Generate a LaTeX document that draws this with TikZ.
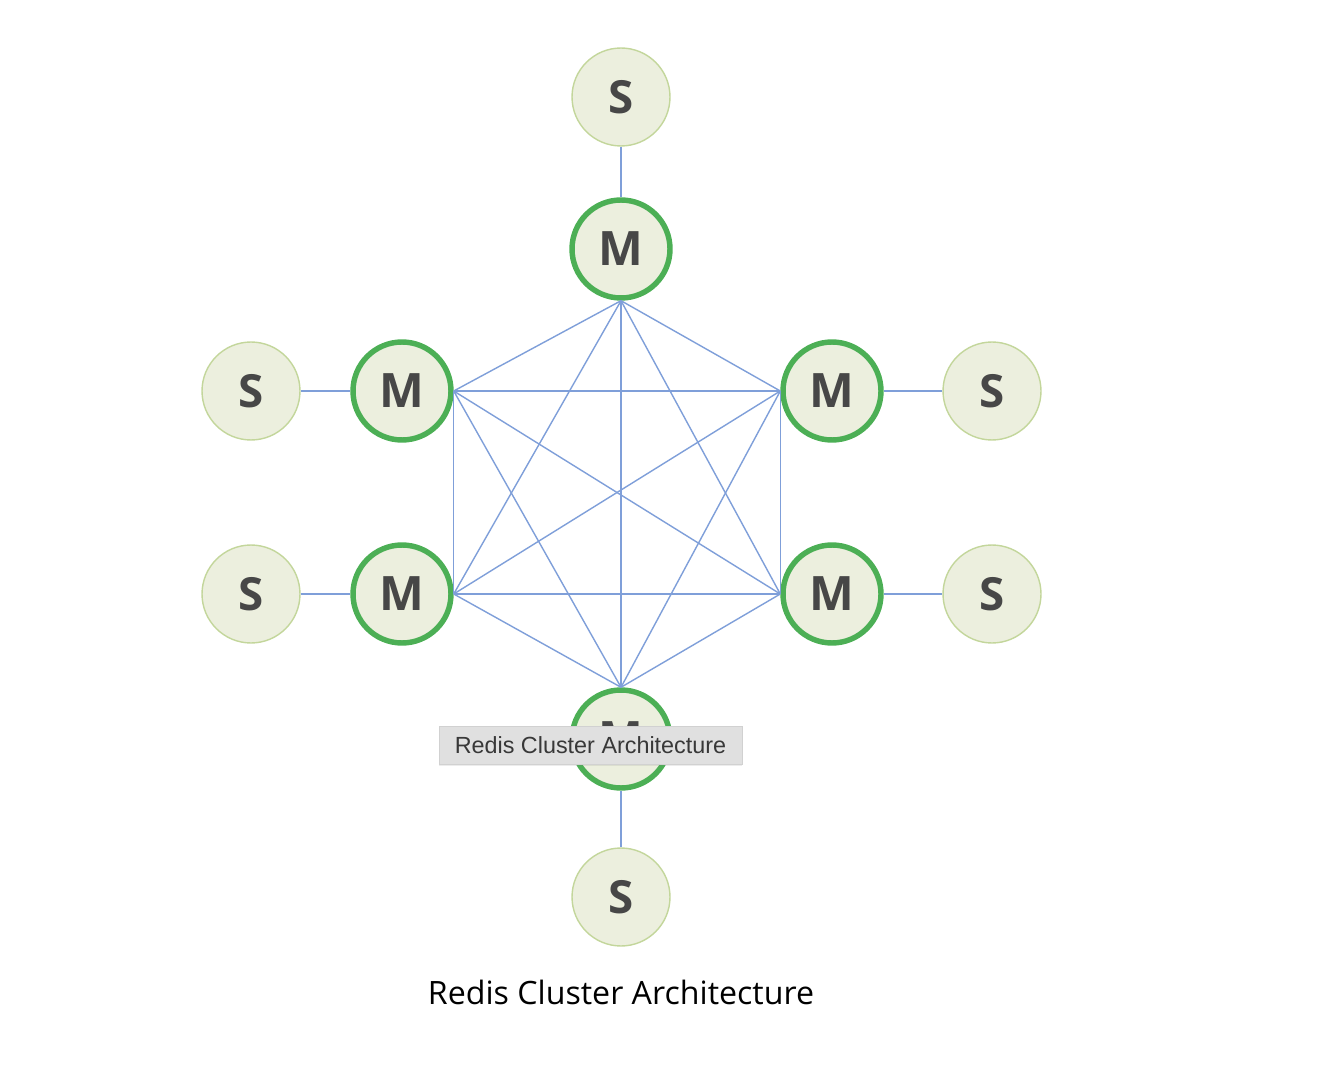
\documentclass[tikz,border=0pt]{standalone}
\usepackage{fontspec}
\setmainfont{Open Sans}
\newfontfamily\tipfont{Liberation Sans}
\usepackage{tikz}
\usetikzlibrary{positioning}
\usetikzlibrary{shadows}
\usepackage{xcolor}
\definecolor{nodefill}{HTML}{ECEFDE}
\definecolor{slaveline}{HTML}{C3D69B}
\definecolor{masterline}{HTML}{4CAF55}
\definecolor{meshblue}{HTML}{7F9FD9}
\definecolor{lettergray}{HTML}{474747}
\tikzset{
	every node/.style={align=center},
	master/.style={circle, draw=masterline, line width=3.1pt, fill=nodefill, minimum size=1.96cm, inner sep=0pt, text=lettergray, font=\fontsize{27}{27}\selectfont\bfseries},
	slave/.style={circle, draw=slaveline, line width=0.8pt, fill=nodefill, minimum size=1.96cm, inner sep=0pt, text=lettergray, font=\fontsize{26}{26}\selectfont\bfseries},
	mesh/.style={draw=meshblue, line width=0.8pt},
	tip/.style={rectangle, draw=black!18, fill=black!12, line width=0.5pt, minimum width=6.06cm, minimum height=0.76cm, text=black!78, font=\tipfont\fontsize{13.3}{14}\selectfont, drop shadow={opacity=0.15, shadow xshift=0pt, shadow yshift=-1.2pt}}
}

\begin{document}
\begin{tikzpicture}[x=0.02cm, y=-0.02cm]
	\useasboundingbox (0, 0) rectangle (1334, 1070);

	% masters
	\node[master] (mt) at (621, 249) {M};
	\node[master] (mlu) at (402, 391) {M};
	\node[master] (mru) at (832, 391) {M};
	\node[master] (mll) at (402, 594) {M};
	\node[master] (mrl) at (832, 594) {M};
	\node[master] (mb) at (621, 739) {M};

	% slaves
	\node[slave] (st) at (621, 97) {S};
	\node[slave] (slu) at (251, 391) {S};
	\node[slave] (sru) at (992, 391) {S};
	\node[slave] (sll) at (251, 594) {S};
	\node[slave] (srl) at (992, 594) {S};
	\node[slave] (sb) at (621, 897) {S};

	% master to slave
	\path[mesh] (st) edge (mt);
	\path[mesh] (slu) edge (mlu);
	\path[mesh] (mru) edge (sru);
	\path[mesh] (sll) edge (mll);
	\path[mesh] (mrl) edge (srl);
	\path[mesh] (mb) edge (sb);

	% master mesh
	\path[mesh] (mt.south) edge (mlu.east);
	\path[mesh] (mt.south) edge (mru.west);
	\path[mesh] (mt.south) edge (mll.east);
	\path[mesh] (mt.south) edge (mrl.west);
	\path[mesh] (mt.south) edge (mb.north);
	\path[mesh] (mlu.east) edge (mru.west);
	\path[mesh] (mlu.east) edge (mll.east);
	\path[mesh] (mlu.east) edge (mrl.west);
	\path[mesh] (mlu.east) edge (mb.north);
	\path[mesh] (mru.west) edge (mll.east);
	\path[mesh] (mru.west) edge (mrl.west);
	\path[mesh] (mru.west) edge (mb.north);
	\path[mesh] (mll.east) edge (mrl.west);
	\path[mesh] (mll.east) edge (mb.north);
	\path[mesh] (mrl.west) edge (mb.north);

	% tooltip and caption
	\node[tip] (tooltip) at (590.5, 745) {Redis Cluster Architecture};
	\node[font=\fontsize{18.3}{20}\selectfont] (caption) at (621, 992) {Redis Cluster Architecture};
\end{tikzpicture}
\end{document}
